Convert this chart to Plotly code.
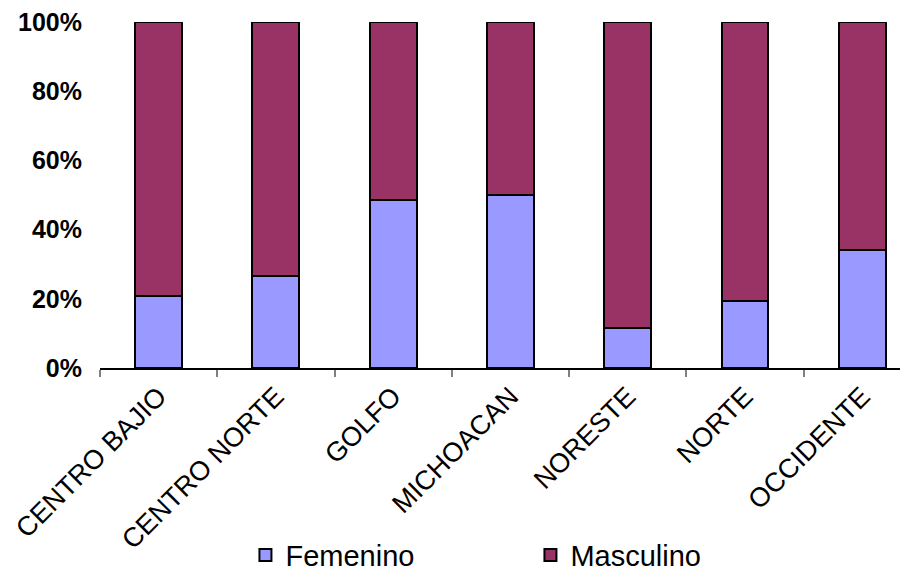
import plotly.graph_objects as go

categories = ["CENTRO BAJIO", "CENTRO NORTE", "GOLFO", "MICHOACAN", "NORESTE", "NORTE", "OCCIDENTE"]
femenino = [20.8, 26.5, 48.5, 49.9, 11.5, 19.4, 34.2]
masculino = [100 - v for v in femenino]
y_ticks = [0, 20, 40, 60, 80, 100]
y_tick_labels = ["0%", "20%", "40%", "60%", "80%", "100%"]

FONT = "Arial, Liberation Sans, sans-serif"

fig = go.Figure()
fig.add_trace(go.Bar(
    x=categories, y=femenino, name="Femenino",
    marker=dict(color="#9999FF", line=dict(color="#000000", width=2)),
    width=0.4,
))
fig.add_trace(go.Bar(
    x=categories, y=masculino, name="Masculino",
    marker=dict(color="#993366", line=dict(color="#000000", width=2)),
    width=0.4,
))

fig.update_layout(
    width=900, height=565,
    barmode="stack",
    plot_bgcolor="white", paper_bgcolor="white",
    margin=dict(l=92, r=0, t=14, b=205, autoexpand=False),
    font=dict(family=FONT, color="black"),
    showlegend=True,
    legend=dict(
        orientation="h", traceorder="normal",
        x=0.18, xanchor="left",
        y=-0.541, yanchor="middle",
        font=dict(size=29, family=FONT, color="black"),
        entrywidth=240, entrywidthmode="pixels",
        itemsizing="constant",
    ),
    xaxis=dict(
        range=[-0.5, 6.39], automargin=False,
        showline=True, linecolor="black", linewidth=1.5,
        ticks="outside", tickson="boundaries", ticklen=7, tickcolor="#808080", tickwidth=1.5,
        tickangle=-45,
        tickfont=dict(size=27, family=FONT, color="black"),
        showgrid=False, zeroline=False,
    ),
    yaxis=dict(
        range=[0, 100], automargin=False,
        tickvals=y_ticks, ticktext=y_tick_labels,
        tickfont=dict(size=25, family=FONT, color="black", weight="bold"),
        showline=False, showgrid=False, zeroline=False,
        ticks="", ticklabelstandoff=17, ticklabeloverflow="allow",
    ),
)

fig.write_html("out.html")
